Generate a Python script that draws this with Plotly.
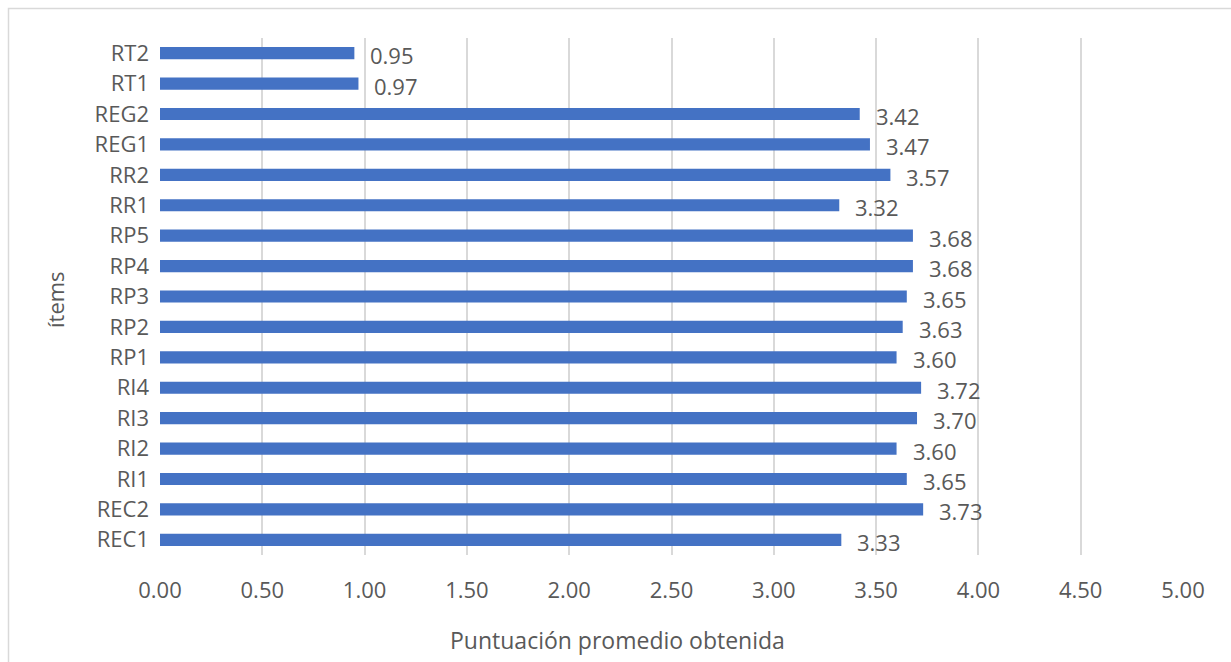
import plotly.graph_objects as go

# Items (bottom to top) and their mean scores
items = ["REC1", "REC2", "RI1", "RI2", "RI3", "RI4", "RP1", "RP2", "RP3",
         "RP4", "RP5", "RR1", "RR2", "REG1", "REG2", "RT1", "RT2"]
scores = [3.33, 3.73, 3.65, 3.60, 3.70, 3.72, 3.60, 3.63, 3.65,
          3.68, 3.68, 3.32, 3.57, 3.47, 3.42, 0.97, 0.95]
x_ticks = [0.0, 0.5, 1.0, 1.5, 2.0, 2.5, 3.0, 3.5, 4.0, 4.5, 5.0]

FONT = "Open Sans"
GREY = "#595959"
FS = 22

# plot area in pixels, used to place paper-referenced items
L, R, T, B = 160, 1183, 38, 555
W, H = R - L, B - T


def px(xp):
    return (xp - L) / W


def py(yp):
    return (B - yp) / H


fig = go.Figure()
fig.add_trace(go.Bar(
    x=scores, y=items, orientation="h",
    marker=dict(color="#4472C4", line=dict(width=0)),
    width=0.4,
    hoverinfo="x+y",
))

# value labels to the right of each bar
for it, v in zip(items, scores):
    fig.add_annotation(
        x=v, y=it, xref="x", yref="y", text=f"{v:.2f}",
        showarrow=False, xanchor="left", yanchor="middle",
        xshift=14, yshift=-2,
        font=dict(family=FONT, size=FS, color=GREY),
    )

# axis titles
fig.add_annotation(
    text="Puntuación promedio obtenida", showarrow=False,
    xref="paper", yref="paper", x=px(617), y=py(640),
    xanchor="center", yanchor="middle",
    font=dict(family=FONT, size=23, color=GREY),
)
fig.add_annotation(
    text="ítems", textangle=-90, showarrow=False,
    xref="paper", yref="paper", x=px(55), y=py(300),
    xanchor="center", yanchor="middle",
    font=dict(family=FONT, size=FS, color=GREY),
)

# outer chart frame
fig.add_shape(
    type="rect", xref="paper", yref="paper",
    x0=px(8.5), x1=px(1240), y0=py(670), y1=py(8.5),
    line=dict(color="#d9d9d9", width=1.5), fillcolor="rgba(0,0,0,0)",
    layer="below",
)

fig.update_layout(
    width=1231, height=662,
    margin=dict(l=L, r=1231 - R, t=T, b=662 - B),
    plot_bgcolor="white", paper_bgcolor="white",
    showlegend=False,
    font=dict(family=FONT, size=FS, color=GREY),
    xaxis=dict(
        range=[0, 5.0], tickvals=x_ticks,
        ticktext=[f"{t:.2f}" for t in x_ticks],
        showgrid=True, gridcolor="#d9d9d9", gridwidth=1.5,
        zeroline=False, showline=False, ticks="",
        ticklabelstandoff=20, automargin=False,
        tickfont=dict(family=FONT, size=FS, color=GREY),
    ),
    yaxis=dict(
        categoryorder="array", categoryarray=items,
        range=[-0.5, len(items) - 0.5],
        showgrid=False, zeroline=False, showline=False, ticks="",
        ticklabelstandoff=10, automargin=False,
        tickfont=dict(family=FONT, size=FS, color=GREY),
    ),
)

fig.write_html("out.html")
